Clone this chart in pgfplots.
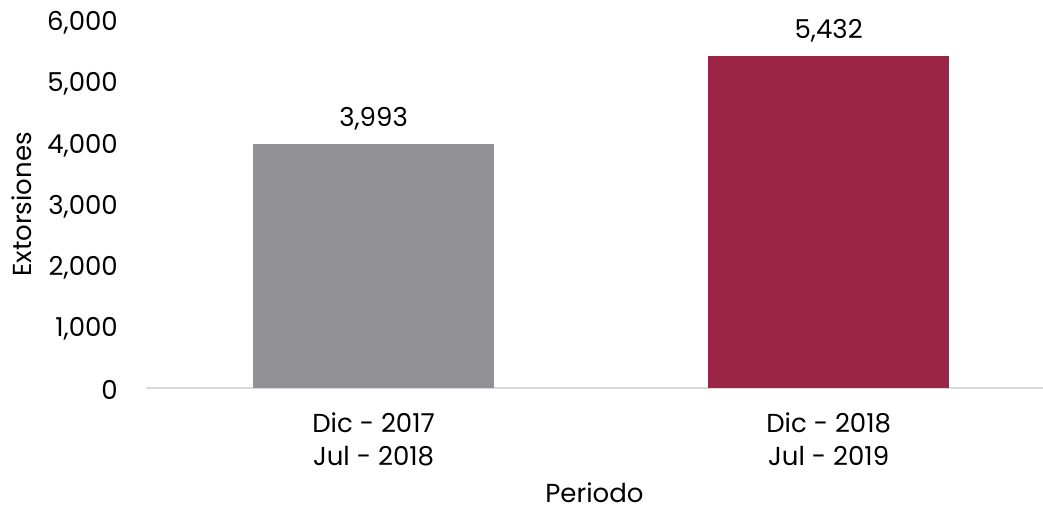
\documentclass[border=0pt]{standalone}
\usepackage{pgfplots}
\pgfplotsset{compat=1.18}
\usepackage{fontspec}
\setmainfont{Poppins}
\definecolor{barGray}{RGB}{146,145,150}
\definecolor{barRed}{RGB}{155,36,71}
\definecolor{axGray}{RGB}{217,217,217}
\begin{document}
\begin{tikzpicture}
\begin{axis}[
  scale only axis,
  width=897pt, height=367pt,
  xmin=-0.5, xmax=1.471,
  ymin=0, ymax=6000,
  ytick={0,1000,...,6000},
  xtick={0,1},
  xticklabels={{Dic - 2017\\Jul - 2018},{Dic - 2018\\Jul - 2019}},
  xticklabel style={align=center, font=\fontsize{26}{33}\selectfont, anchor=north, yshift=-21pt},
  yticklabel style={font=\fontsize{26}{30}\selectfont, anchor=east, xshift=-24.7pt, yshift=-2pt},
  /pgf/number format/.cd, 1000 sep={,}, assume math mode=true,
  /pgfplots/.cd,
  axis x line*=bottom,
  axis y line*=left,
  x axis line style={axGray, line width=1.2pt, -},
  y axis line style={draw=none},
  major tick length=0pt,
  ylabel={Extorsiones},
  xlabel={Periodo},
  ylabel style={font=\fontsize{26}{30}\selectfont, at={(axis description cs:-0.1382,0.5)}, anchor=center},
  xlabel style={font=\fontsize{26}{30}\selectfont, at={(axis description cs:0.5,0)}, anchor=center, yshift=-105pt},
  ybar, bar width=241pt, bar shift=0pt,
  nodes near coords,
  nodes near coords style={font=\fontsize{26}{30}\selectfont, black, anchor=center, yshift=25pt},
  clip=false,
]
\addplot[fill=barGray, draw=none] coordinates {(0,3993)};
\addplot[fill=barRed, draw=none] coordinates {(1,5432)};
\end{axis}
\pgfresetboundingbox
\path[use as bounding box] (-146pt,-122pt) rectangle (897pt,388pt);
\end{tikzpicture}
\end{document}
